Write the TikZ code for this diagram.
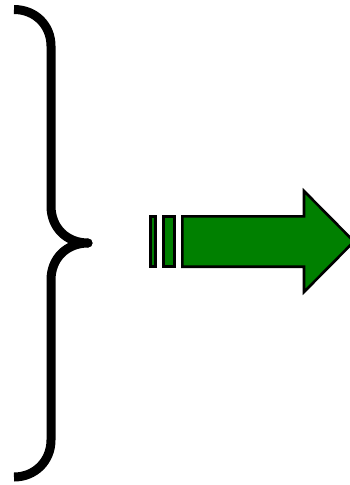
\documentclass[tikz,border=0pt]{standalone}
\definecolor{arrowgreen}{RGB}{0,128,0}
\begin{document}
\begin{tikzpicture}[x=1pt,y=-1pt,
  bracestyle/.style={line width=9pt,line join=round,line cap=butt},
  arrowpart/.style={fill=arrowgreen,draw=black,line width=2.6pt,line join=miter}]
\useasboundingbox (0,0) rectangle (349,485);
% brace
\draw[bracestyle] (14,9.5) .. controls (35,9.5) and (51,25) .. (51,46)
  -- (51,206) .. controls (51,228) and (67,243) .. (88,243)
  .. controls (67,243) and (51,258) .. (51,280)
  -- (51,440) .. controls (51,461) and (35,477) .. (14,477);
\fill (88,243) circle (4.5pt);
% striped arrow
\draw[arrowpart] (150.3,216.3) rectangle (155.7,266.7);
\draw[arrowpart] (163.3,216.3) rectangle (174.7,266.7);
\draw[arrowpart] (182.3,216.3) -- (304,216.3) -- (304,191) -- (354,241.5)
  -- (304,292) -- (304,266.7) -- (182.3,266.7) -- cycle;
\end{tikzpicture}
\end{document}
